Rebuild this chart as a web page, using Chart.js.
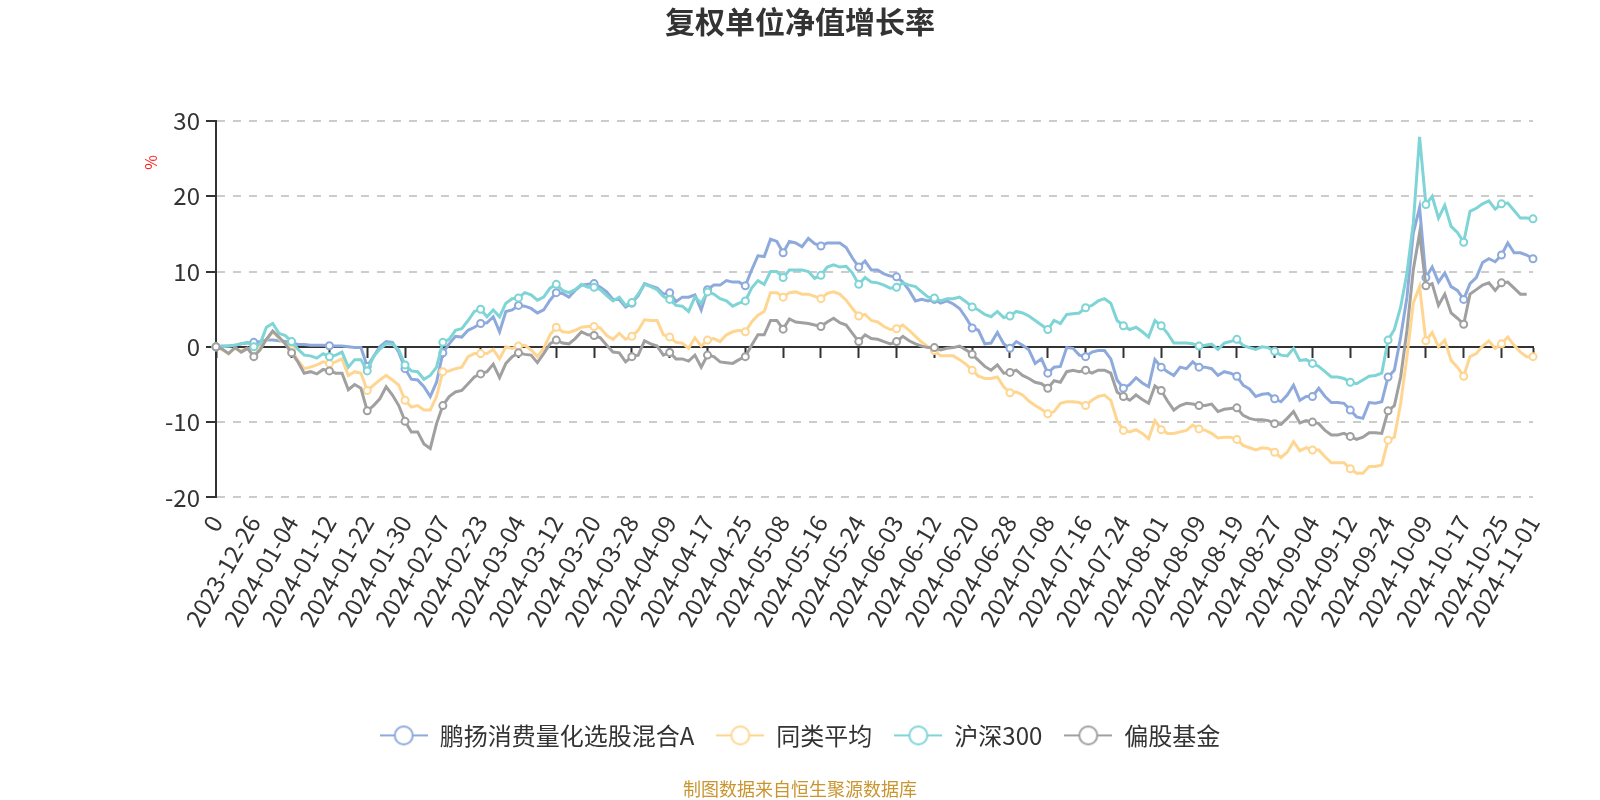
<!DOCTYPE html>
<html>
<head>
<meta charset="utf-8">
<script src="https://cdn.jsdelivr.net/npm/chart.js@4.4.1/dist/chart.umd.min.js"></script>
<style>
  html, body { margin: 0; padding: 0; background: #ffffff; }
  #wrap { width: 1600px; height: 800px; position: relative; }
</style>
</head>
<body>
<div id="wrap"><canvas id="c"></canvas></div>
<script>
const chartTitle = '复权单位净值增长率';
const sourceNote = '制图数据来自恒生聚源数据库';
const yUnit = '%';
const seriesNames = ['鹏扬消费量化选股混合A', '同类平均', '沪深300', '偏股基金'];
const seriesColors = ['#8eaadc', '#ffd691', '#7fd4d6', '#a0a0a0'];
const yTickMin = -20, yTickMax = 30, yTickStep = 10;
const labelEvery = 6;

const dates = ["0","2023-12-19","2023-12-20","2023-12-21","2023-12-22","2023-12-25","2023-12-26","2023-12-27","2023-12-28","2023-12-29",
"2024-01-02","2024-01-03","2024-01-04","2024-01-05","2024-01-08","2024-01-09","2024-01-10","2024-01-11","2024-01-12","2024-01-15","2024-01-16","2024-01-17","2024-01-18","2024-01-19","2024-01-22","2024-01-23","2024-01-24","2024-01-25","2024-01-26","2024-01-29","2024-01-30","2024-01-31",
"2024-02-01","2024-02-02","2024-02-05","2024-02-06","2024-02-07","2024-02-08","2024-02-19","2024-02-20","2024-02-21","2024-02-22","2024-02-23","2024-02-26","2024-02-27","2024-02-28","2024-02-29",
"2024-03-01","2024-03-04","2024-03-05","2024-03-06","2024-03-07","2024-03-08","2024-03-11","2024-03-12","2024-03-13","2024-03-14","2024-03-15","2024-03-18","2024-03-19","2024-03-20","2024-03-21","2024-03-22","2024-03-25","2024-03-26","2024-03-27","2024-03-28","2024-03-29",
"2024-04-01","2024-04-02","2024-04-03","2024-04-08","2024-04-09","2024-04-10","2024-04-11","2024-04-12","2024-04-15","2024-04-16","2024-04-17","2024-04-18","2024-04-19","2024-04-22","2024-04-23","2024-04-24","2024-04-25","2024-04-26","2024-04-29","2024-04-30",
"2024-05-06","2024-05-07","2024-05-08","2024-05-09","2024-05-10","2024-05-13","2024-05-14","2024-05-15","2024-05-16","2024-05-17","2024-05-20","2024-05-21","2024-05-22","2024-05-23","2024-05-24","2024-05-27","2024-05-28","2024-05-29","2024-05-30","2024-05-31",
"2024-06-03","2024-06-04","2024-06-05","2024-06-06","2024-06-07","2024-06-11","2024-06-12","2024-06-13","2024-06-14","2024-06-17","2024-06-18","2024-06-19","2024-06-20","2024-06-21","2024-06-24","2024-06-25","2024-06-26","2024-06-27","2024-06-28",
"2024-07-01","2024-07-02","2024-07-03","2024-07-04","2024-07-05","2024-07-08","2024-07-09","2024-07-10","2024-07-11","2024-07-12","2024-07-15","2024-07-16","2024-07-17","2024-07-18","2024-07-19","2024-07-22","2024-07-23","2024-07-24","2024-07-25","2024-07-26","2024-07-29","2024-07-30","2024-07-31",
"2024-08-01","2024-08-02","2024-08-05","2024-08-06","2024-08-07","2024-08-08","2024-08-09","2024-08-12","2024-08-13","2024-08-14","2024-08-15","2024-08-16","2024-08-19","2024-08-20","2024-08-21","2024-08-22","2024-08-23","2024-08-26","2024-08-27","2024-08-28","2024-08-29","2024-08-30",
"2024-09-02","2024-09-03","2024-09-04","2024-09-05","2024-09-06","2024-09-09","2024-09-10","2024-09-11","2024-09-12","2024-09-13","2024-09-18","2024-09-19","2024-09-20","2024-09-23","2024-09-24","2024-09-25","2024-09-26","2024-09-27","2024-09-30",
"2024-10-08","2024-10-09","2024-10-10","2024-10-11","2024-10-14","2024-10-15","2024-10-16","2024-10-17","2024-10-18","2024-10-21","2024-10-22","2024-10-23","2024-10-24","2024-10-25","2024-10-28","2024-10-29","2024-10-30","2024-10-31",
"2024-11-01"];

const fundValues = [0,0.1,0.1,0.2,0.4,0.5,0.6,0.7,0.9,0.9,
0.8,0.7,0.6,0.3,0.3,0.2,0.2,0.2,0.15,0.1,
0.1,0.0,-0.1,-0.1,-2.6,-1.3,0.0,0.7,0.6,-0.7,
-2.9,-4.3,-4.4,-5.3,-6.6,-4.7,-0.8,0.4,1.4,1.3,
2.2,2.6,3.1,3.2,4.0,2.0,4.7,4.9,5.5,5.4,
5.1,4.5,4.9,6.2,7.2,7.1,6.6,7.5,8.2,8.3,
8.4,7.9,7.3,6.3,6.3,5.3,5.8,6.8,8.4,8.1,
7.8,7.0,7.2,6.0,6.6,6.6,6.9,4.9,7.6,8.2,
8.2,8.8,8.6,8.6,8.1,10.2,12.1,12.0,14.3,14.0,
12.5,14.0,13.8,13.3,14.4,13.7,13.4,13.8,13.8,13.8,
13.2,11.8,10.6,11.4,10.2,10.2,9.7,9.4,9.3,8.6,
7.5,6.1,6.3,6.1,6.3,5.8,6.1,5.7,5.1,3.9,
2.5,2.2,0.4,0.5,1.9,0.4,-0.2,0.7,0.2,-0.4,
-2.2,-1.6,-3.5,-2.7,-2.6,-0.1,-0.2,-1.1,-1.3,-0.7,
-0.5,-0.5,-1.6,-4.4,-5.5,-5.0,-4.1,-4.8,-5.3,-1.7,
-2.7,-3.3,-3.8,-2.7,-2.9,-2.0,-2.7,-2.7,-2.9,-3.8,
-3.3,-3.5,-3.9,-5.1,-5.6,-6.6,-6.3,-6.2,-6.9,-7.3,
-6.4,-5.1,-7.1,-6.6,-6.6,-5.5,-6.6,-7.4,-7.4,-7.5,
-8.4,-9.3,-9.5,-7.4,-7.5,-7.3,-4.0,-3.1,1.3,6.6,
15.1,18.5,9.2,10.6,8.6,9.8,8.0,7.5,6.3,8.4,
9.2,11.2,11.7,11.3,12.2,13.8,12.5,12.5,12.2,11.7];

const peerAvgValues = [0,-0.4,-0.9,-0.2,-0.5,-0.2,-0.4,0.0,0.9,2.0,
1.1,0.4,-0.4,-1.8,-2.9,-2.7,-2.4,-2.0,-2.2,-2.0,
-1.6,-3.8,-3.3,-3.5,-5.8,-5.1,-4.4,-3.8,-4.4,-5.1,
-7.1,-8.0,-7.8,-8.4,-8.4,-6.6,-3.3,-3.2,-2.9,-2.7,
-1.3,-0.9,-0.9,-0.9,-0.35,-1.6,0.0,-0.2,0.1,0.2,
-0.4,-1.3,-0.2,1.6,2.6,2.0,1.9,2.2,2.6,2.7,
2.7,2.5,1.5,1.0,1.8,1.0,1.4,2.2,3.6,3.5,
3.5,1.6,1.3,0.6,0.5,-0.2,1.2,0.1,0.9,1.1,
0.7,1.6,2.0,2.2,2.0,3.3,4.2,4.7,7.2,7.2,
6.6,7.2,7.3,7.0,7.0,6.7,6.4,7.1,7.3,7.0,
6.2,5.1,4.1,4.3,3.5,3.3,2.7,2.3,2.4,2.9,
2.2,1.4,0.6,0.0,-0.5,-1.2,-1.2,-1.2,-1.7,-2.3,
-3.1,-3.9,-4.2,-4.2,-4.0,-5.3,-6.1,-6.0,-6.4,-7.2,
-7.8,-8.3,-8.9,-8.6,-7.5,-7.3,-7.3,-7.4,-7.8,-7.1,
-6.6,-6.4,-7.1,-9.8,-11.1,-11.3,-11.0,-11.5,-12.2,-9.8,
-11.0,-11.5,-11.5,-11.3,-11.1,-10.4,-10.9,-11.1,-11.5,-12.1,
-12.0,-12.0,-12.3,-13.1,-13.4,-13.7,-13.4,-13.5,-14.0,-14.7,
-14.0,-12.6,-13.8,-13.4,-13.7,-13.7,-14.6,-15.4,-15.4,-15.4,
-16.2,-16.8,-16.8,-15.9,-15.9,-15.7,-12.4,-12.0,-7.5,-1.3,
5.8,8.0,0.8,1.9,0.0,0.9,-1.8,-2.7,-3.9,-1.3,
-0.9,0.1,0.8,-0.2,0.4,1.3,0.2,-0.7,-1.3,-1.3];

const hs300Values = [0,0.0,0.1,0.2,0.4,0.6,0.0,0.4,2.6,3.1,
1.8,1.5,0.7,-0.3,-1.1,-1.2,-1.5,-0.9,-1.3,-1.1,
-0.7,-2.7,-1.7,-1.7,-3.2,-1.3,-0.3,0.4,0.35,-0.4,
-2.4,-3.2,-3.3,-4.3,-3.8,-2.7,0.6,1.0,2.2,2.4,
3.5,4.7,5.0,4.0,4.9,4.0,5.8,6.4,6.5,7.2,
6.9,6.2,6.6,7.8,8.3,7.5,7.2,7.6,8.3,7.9,
7.9,7.6,6.8,6.1,6.6,5.5,5.9,7.0,8.3,8.0,
7.6,6.7,6.3,5.5,5.4,4.7,6.6,5.8,7.3,7.0,
6.4,6.1,5.4,5.8,6.1,7.8,8.8,8.3,10.0,10.0,
9.2,10.2,10.2,10.2,10.0,9.1,9.5,10.6,10.9,10.6,
10.7,9.8,8.3,9.2,8.6,8.5,8.2,7.8,7.9,8.5,
8.2,8.0,7.3,6.6,6.5,6.1,6.4,6.4,6.6,6.0,
5.3,4.9,4.3,4.0,4.7,3.9,4.1,4.7,4.5,4.1,
3.5,2.9,2.3,3.5,3.1,4.3,4.4,4.5,5.2,5.5,
6.1,6.4,5.8,3.5,2.8,2.3,2.6,2.0,1.3,3.5,
2.8,1.8,0.5,0.5,0.5,0.4,0.1,0.2,0.35,-0.35,
0.5,0.7,1.0,0.2,-0.1,-0.35,0.0,-0.1,-0.6,-1.1,
-1.2,-0.2,-1.8,-1.7,-2.2,-2.6,-3.3,-4.0,-4.0,-4.2,
-4.7,-4.9,-4.4,-3.9,-3.8,-3.5,0.9,2.3,5.3,9.8,
16.4,27.9,18.9,20.0,17.1,18.8,16.0,15.2,13.9,18.0,
18.4,19.0,19.4,18.3,19.0,19.1,18.1,17.1,17.1,17.0];

const equityFundValues = [0,-0.3,-0.9,-0.1,-0.7,-0.2,-1.3,-0.4,1.0,2.1,
1.3,0.4,-0.8,-2.0,-3.5,-3.3,-3.6,-3.0,-3.2,-3.5,
-3.5,-5.7,-5.0,-5.5,-8.5,-7.8,-6.9,-5.3,-6.4,-7.8,
-9.9,-11.3,-11.3,-12.9,-13.5,-10.2,-7.8,-6.6,-6.0,-5.8,
-4.9,-4.0,-3.6,-3.3,-2.3,-4.1,-2.2,-1.3,-0.8,-1.0,
-1.1,-2.1,-0.9,0.4,0.9,0.5,0.4,1.1,2.0,1.6,
1.5,1.2,0.2,-0.7,-0.8,-2.0,-1.3,-1.1,0.8,0.4,
0.1,-1.1,-0.75,-1.6,-1.6,-1.9,-1.1,-2.7,-1.1,-1.3,
-2.0,-2.1,-2.2,-1.7,-1.3,0.2,1.6,1.6,3.5,3.5,
2.35,3.7,3.3,3.2,3.1,2.9,2.7,3.3,3.8,3.2,
2.9,1.8,0.7,1.6,1.1,1.0,0.7,0.4,0.7,1.4,
0.8,0.4,0.1,-0.1,-0.1,-0.4,-0.2,-0.1,0.1,-0.4,
-1.0,-1.8,-2.6,-3.1,-2.4,-3.5,-3.4,-3.1,-3.8,-4.2,
-4.7,-4.9,-5.5,-4.5,-4.7,-3.3,-3.1,-3.3,-3.1,-3.5,
-3.1,-3.1,-3.5,-6.0,-6.6,-7.1,-6.4,-7.0,-7.5,-5.2,
-5.8,-7.2,-8.4,-7.8,-7.5,-7.6,-7.8,-7.8,-7.6,-8.6,
-8.3,-8.2,-8.1,-9.1,-9.5,-9.7,-9.7,-9.8,-10.2,-10.3,
-9.5,-8.6,-10.1,-9.8,-10.0,-10.2,-11.1,-11.7,-11.7,-11.5,
-11.9,-12.3,-12.0,-11.4,-11.4,-11.5,-8.5,-7.8,-4.0,2.2,
10.2,15.1,8.1,8.4,5.5,7.0,4.5,3.8,3.0,7.0,
7.6,8.2,8.5,7.5,8.5,8.6,7.8,7.0,7.0,null];

const seriesValues = [fundValues, peerAvgValues, hs300Values, equityFundValues];

const FONT = '"Noto Sans CJK SC", "Noto Sans", sans-serif';
Chart.defaults.font.family = FONT;
Chart.defaults.color = '#333';

const lastIndex = dates.length - 1;
const keepTick = (v) => v % labelEvery === 0 || v === lastIndex;
const filterTicks = (scale) => { scale.ticks = scale.ticks.filter(t => keepTick(t.value)); };

function legendIcon(color) {
  const c = document.createElement('canvas');
  c.width = 48; c.height = 24;
  const g = c.getContext('2d');
  g.strokeStyle = color; g.lineWidth = 2;
  g.beginPath(); g.moveTo(0, 12); g.lineTo(48, 12); g.stroke();
  g.beginPath(); g.arc(24, 12, 9, 0, Math.PI * 2);
  g.fillStyle = '#fff'; g.fill(); g.stroke();
  return c;
}
const icons = seriesColors.map(legendIcon);

const datasets = seriesNames.map((name, k) => ({
  label: name,
  data: seriesValues[k],
  borderColor: seriesColors[k],
  backgroundColor: seriesColors[k],
  borderWidth: 3,
  tension: 0,
  order: seriesNames.length - k,
  pointStyle: 'circle',
  pointBackgroundColor: '#ffffff',
  pointBorderColor: seriesColors[k],
  pointBorderWidth: 2,
  pointRadius: (ctx) => keepTick(ctx.dataIndex) ? 3.5 : 0,
  pointHoverRadius: (ctx) => keepTick(ctx.dataIndex) ? 3.5 : 0,
  spanGaps: false
}));

const unitLabel = {
  id: 'unitLabel',
  afterDraw(chart) {
    const {ctx, chartArea, scales} = chart;
    const y = scales.y.getPixelForValue(24.5);
    ctx.save();
    ctx.translate(chartArea.left - 65, y);
    ctx.rotate(-Math.PI / 2);
    ctx.fillStyle = '#ff2020';
    ctx.font = '16px ' + FONT;
    ctx.textAlign = 'center';
    ctx.textBaseline = 'middle';
    ctx.fillText(yUnit, 0, 0);
    ctx.restore();
  }
};

new Chart(document.getElementById('c'), {
  type: 'line',
  data: { labels: dates, datasets },
  plugins: [unitLabel],
  options: {
    responsive: true,
    maintainAspectRatio: false,
    animation: false,
    events: [],
    layout: { padding: 0 },
    plugins: {
      title: {
        display: true, text: chartTitle, color: '#333',
        font: { size: 30, weight: 'bold', family: FONT },
        padding: { top: 4, bottom: 81 }
      },
      subtitle: {
        display: true, text: sourceNote, position: 'bottom', color: '#c9952f',
        font: { size: 18, family: FONT },
        padding: { top: 21, bottom: 0 }
      },
      legend: {
        position: 'bottom',
        labels: {
          usePointStyle: true,
          pointStyleWidth: 48,
          boxHeight: 24,
          padding: 22,
          color: '#333',
          font: { size: 24, family: FONT },
          sort: (a, b) => a.datasetIndex - b.datasetIndex,
          generateLabels(chart) {
            const items = Chart.defaults.plugins.legend.labels.generateLabels(chart);
            items.forEach(it => { it.pointStyle = icons[it.datasetIndex]; });
            return items;
          }
        }
      },
      tooltip: { enabled: false }
    },
    scales: {
      x: {
        type: 'category',
        offset: false,
        grid: { display: false },
        border: { display: false },
        ticks: {
          autoSkip: false, maxRotation: 60, minRotation: 60, padding: 5,
          color: '#333', font: { size: 24, family: FONT }
        },
        afterBuildTicks: filterTicks,
        afterFit: (s) => { s.height = 204; }
      },
      x2: {
        type: 'category',
        axis: 'x',
        offset: false,
        position: { y: 0 },
        grid: { drawOnChartArea: false, drawTicks: true, tickLength: 10, tickColor: '#333', tickWidth: 2 },
        border: { display: true, color: '#333', width: 2 },
        ticks: { display: false, autoSkip: false },
        afterBuildTicks: filterTicks
      },
      y: {
        min: yTickMin, max: yTickMax,
        ticks: { stepSize: yTickStep, padding: 6, color: '#333', font: { size: 24, family: FONT } },
        grid: { color: '#cccccc', lineWidth: 2, tickLength: 10, tickColor: '#333', tickWidth: 2, tickBorderDash: [] },
        border: { display: true, color: '#333', width: 2, dash: [8, 8] },
        afterFit: (s) => { s.width = 216; }
      },
      yRight: {
        type: 'linear',
        axis: 'y',
        position: 'right',
        display: true,
        grid: { display: false },
        border: { display: false },
        ticks: { display: false },
        afterFit: (s) => { s.width = 67; }
      }
    }
  }
});
</script>
</body>
</html>
